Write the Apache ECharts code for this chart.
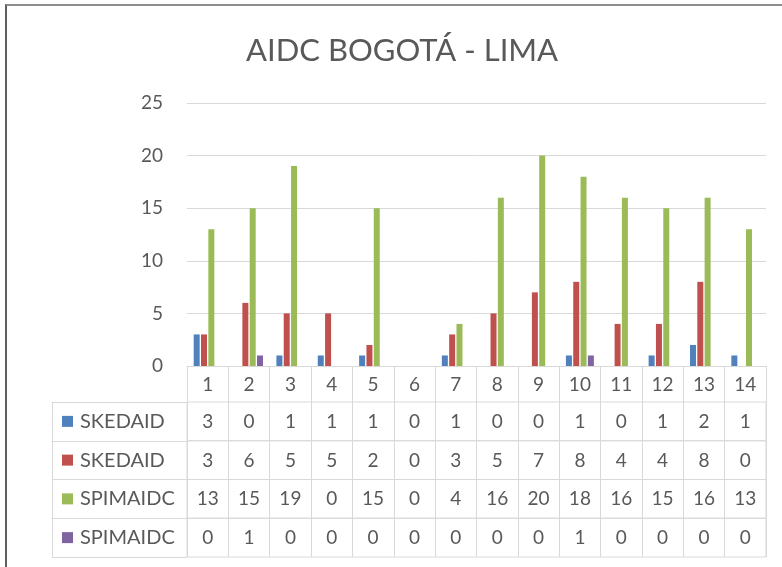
<!DOCTYPE html>
<html>
<head>
<meta charset="utf-8">
<script src="https://cdn.jsdelivr.net/npm/echarts@6/dist/echarts.min.js"></script>
<style>
body { margin: 0; background: #fff; }
#chart { width: 782px; height: 567px; }
#frame { position: absolute; left: 5px; top: 4px; width: 777px; height: 563px;
  border-left: 2px solid #5e5e5e; border-top: 2px solid #8f8f8f; pointer-events: none; }
</style>
</head>
<body>
<div id="chart"></div>
<div id="frame"></div>
<script>
var categories = ['1', '2', '3', '4', '5', '6', '7', '8', '9', '10', '11', '12', '13', '14'];
var seriesNames = ['SKEDAID', 'SKEDAID', 'SPIMAIDC', 'SPIMAIDC'];
var skedBlue = [3, 0, 1, 1, 1, 0, 1, 0, 0, 1, 0, 1, 2, 1];
var skedRed = [3, 6, 5, 5, 2, 0, 3, 5, 7, 8, 4, 4, 8, 0];
var spimGreen = [13, 15, 19, 0, 15, 0, 4, 16, 20, 18, 16, 15, 16, 13];
var spimPurple = [0, 1, 0, 0, 0, 0, 0, 0, 0, 1, 0, 0, 0, 0];
var yTicks = [0, 5, 10, 15, 20, 25];

var values = [skedBlue, skedRed, spimGreen, spimPurple];
var colors = ['#4f81bd', '#c0504d', '#9bbb59', '#8064a2'];
var textColor = '#595959';
var lineColor = '#d9d9d9';
var font = 'Lato, "Noto Sans", sans-serif';
var fs = 19;

var chart = echarts.init(document.getElementById('chart'));

var grids = [{ left: 187, right: 16, top: 103, bottom: 201 }];
var xAxes = [{
    type: 'category',
    data: categories,
    gridIndex: 0,
    axisLine: { lineStyle: { color: lineColor } },
    axisTick: { show: true, length: 36, interval: 0, lineStyle: { color: lineColor } },
    axisLabel: { interval: 0, margin: 9, fontSize: fs, color: textColor, fontFamily: font }
}];
var yAxes = [{
    type: 'value',
    gridIndex: 0,
    min: yTicks[0],
    max: yTicks[yTicks.length - 1],
    interval: 5,
    axisLine: { show: false },
    axisTick: { show: false },
    splitLine: { lineStyle: { color: lineColor } },
    axisLabel: { margin: 24, fontSize: fs, color: textColor, fontFamily: font }
}];
var series = [];

values.forEach(function (row, i) {
    series.push({
        name: seriesNames[i],
        type: 'bar',
        data: row,
        barWidth: 6,
        barGap: '22%',
        itemStyle: { color: colors[i] },
        xAxisIndex: 0,
        yAxisIndex: 0
    });

    // data table row
    var rich = {};
    rich.m = { width: 11, height: 11, backgroundColor: colors[i] };
    rich.t = { fontSize: fs + 1, color: textColor, fontFamily: font, padding: [0, 0, 0, 7] };
    grids.push({
        left: 187, right: 16,
        top: 402 + i * 38.75, height: 38.75,
        show: true, borderColor: lineColor, borderWidth: 1
    });
    xAxes.push({
        type: 'category',
        data: categories,
        gridIndex: i + 1,
        axisLine: { show: false },
        axisTick: { show: false },
        splitLine: { show: true, interval: 0, lineStyle: { color: lineColor } },
        axisLabel: {
            interval: 0, margin: -19, verticalAlign: 'middle',
            fontSize: fs, color: textColor, fontFamily: font,
            formatter: function (v, idx) { return String(row[idx]); }
        }
    });
    yAxes.push({
        type: 'category',
        data: [seriesNames[i]],
        gridIndex: i + 1,
        offset: 135,
        axisLine: { show: true, lineStyle: { color: lineColor } },
        axisTick: { show: true, inside: true, length: 135, lineStyle: { color: lineColor } },
        axisLabel: {
            margin: -10, align: 'left',
            formatter: function (v) { return '{m|}{t|' + v + '}'; },
            rich: rich
        }
    });
});

chart.setOption({
    animation: false,
    title: {
        text: 'AIDC BOGOTÁ - LIMA',
        left: 241,
        top: 30,
        textStyle: { fontSize: 31, fontWeight: 'normal', color: textColor, fontFamily: font }
    },
    grid: grids,
    xAxis: xAxes,
    yAxis: yAxes,
    series: series
});
</script>
</body>
</html>
